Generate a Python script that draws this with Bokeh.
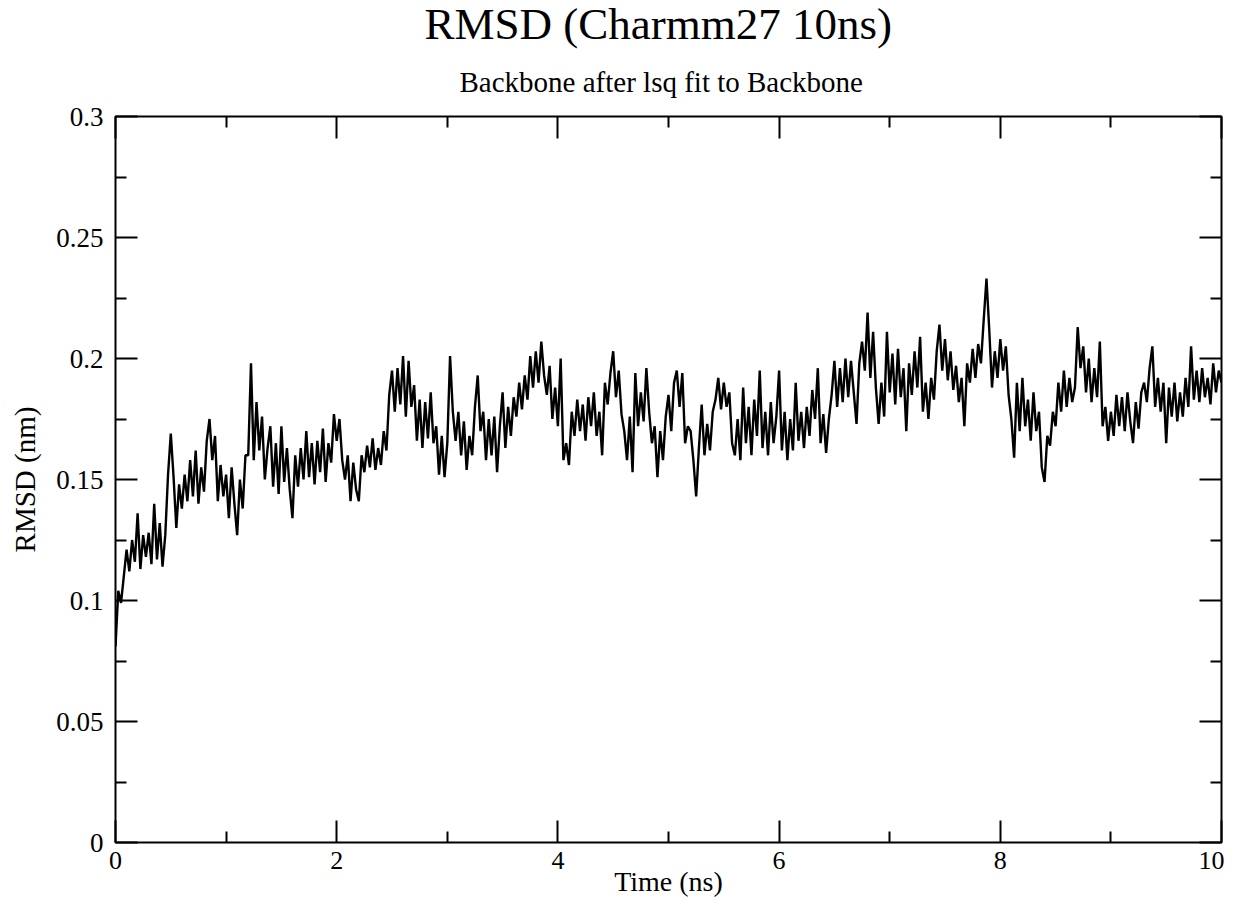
import numpy as np
from bokeh.plotting import figure
from bokeh.models import FixedTicker, LinearAxis, CustomJSTickFormatter, Range1d, Title
from bokeh.embed import file_html
from bokeh.resources import INLINE

FONT = "Liberation Serif"

title_text = "RMSD (Charmm27 10ns)"
subtitle_text = "Backbone after lsq fit to Backbone"
x_label = "Time (ns)"
y_label = "RMSD (nm)"

x_ticks = [0, 2, 4, 6, 8, 10]
x_minor_ticks = [1, 3, 5, 7, 9]
y_ticks = [0.0, 0.05, 0.1, 0.15, 0.2, 0.25, 0.3]
y_tick_labels = ["0", "0.05", "0.1", "0.15", "0.2", "0.25", "0.3"]
y_minor_ticks = [0.025, 0.075, 0.125, 0.175, 0.225, 0.275]

rmsd = [
    0.081, 0.104, 0.099, 0.110, 0.121, 0.112, 0.125, 0.116, 0.136, 0.113, 0.127, 0.118, 0.128, 0.115, 0.140, 0.117, 0.132, 0.114, 0.127, 0.152,
    0.169, 0.151, 0.130, 0.148, 0.138, 0.152, 0.141, 0.158, 0.143, 0.162, 0.140, 0.155, 0.145, 0.166, 0.175, 0.158, 0.168, 0.141, 0.156, 0.143,
    0.152, 0.134, 0.155, 0.140, 0.127, 0.150, 0.138, 0.160, 0.160, 0.198, 0.158, 0.182, 0.162, 0.176, 0.150, 0.163, 0.172, 0.147, 0.165, 0.144,
    0.172, 0.149, 0.163, 0.146, 0.134, 0.160, 0.147, 0.163, 0.150, 0.170, 0.151, 0.165, 0.148, 0.166, 0.153, 0.171, 0.149, 0.165, 0.157, 0.177,
    0.166, 0.175, 0.158, 0.150, 0.160, 0.141, 0.157, 0.146, 0.141, 0.160, 0.153, 0.164, 0.155, 0.167, 0.154, 0.163, 0.156, 0.170, 0.162, 0.185,
    0.195, 0.178, 0.196, 0.181, 0.201, 0.176, 0.199, 0.180, 0.189, 0.166, 0.183, 0.163, 0.182, 0.167, 0.186, 0.165, 0.172, 0.152, 0.168, 0.151,
    0.165, 0.201, 0.178, 0.166, 0.178, 0.160, 0.174, 0.154, 0.168, 0.160, 0.180, 0.193, 0.170, 0.178, 0.158, 0.175, 0.160, 0.176, 0.153, 0.172,
    0.186, 0.163, 0.180, 0.168, 0.184, 0.176, 0.190, 0.179, 0.193, 0.183, 0.201, 0.188, 0.203, 0.190, 0.207, 0.193, 0.185, 0.197, 0.175, 0.188,
    0.172, 0.200, 0.158, 0.165, 0.156, 0.178, 0.168, 0.183, 0.170, 0.181, 0.166, 0.184, 0.172, 0.186, 0.168, 0.178, 0.160, 0.190, 0.181, 0.194,
    0.203, 0.184, 0.195, 0.177, 0.170, 0.158, 0.176, 0.153, 0.194, 0.172, 0.186, 0.174, 0.196, 0.178, 0.165, 0.172, 0.151, 0.170, 0.158, 0.176,
    0.185, 0.170, 0.190, 0.195, 0.180, 0.194, 0.165, 0.172, 0.170, 0.158, 0.143, 0.163, 0.181, 0.160, 0.173, 0.162, 0.178, 0.183, 0.192, 0.179,
    0.190, 0.180, 0.186, 0.165, 0.160, 0.175, 0.158, 0.188, 0.165, 0.180, 0.160, 0.183, 0.168, 0.195, 0.163, 0.178, 0.160, 0.182, 0.165, 0.176,
    0.195, 0.162, 0.178, 0.158, 0.175, 0.162, 0.190, 0.166, 0.178, 0.163, 0.180, 0.168, 0.187, 0.175, 0.196, 0.165, 0.177, 0.161, 0.175, 0.185,
    0.199, 0.180, 0.196, 0.182, 0.200, 0.184, 0.199, 0.186, 0.173, 0.198, 0.207, 0.195, 0.219, 0.192, 0.211, 0.188, 0.173, 0.190, 0.176, 0.211,
    0.186, 0.202, 0.181, 0.204, 0.184, 0.196, 0.170, 0.198, 0.185, 0.203, 0.188, 0.209, 0.178, 0.190, 0.175, 0.192, 0.183, 0.203, 0.214, 0.195,
    0.208, 0.191, 0.203, 0.187, 0.197, 0.182, 0.192, 0.172, 0.198, 0.190, 0.204, 0.192, 0.206, 0.198, 0.216, 0.233, 0.212, 0.188, 0.203, 0.192,
    0.208, 0.195, 0.205, 0.185, 0.175, 0.159, 0.190, 0.170, 0.192, 0.172, 0.183, 0.166, 0.186, 0.170, 0.178, 0.155, 0.149, 0.168, 0.164, 0.178,
    0.172, 0.190, 0.178, 0.195, 0.180, 0.192, 0.182, 0.188, 0.213, 0.196, 0.205, 0.186, 0.200, 0.182, 0.196, 0.184, 0.207, 0.172, 0.180, 0.166,
    0.178, 0.168, 0.185, 0.172, 0.184, 0.170, 0.186, 0.174, 0.165, 0.182, 0.171, 0.186, 0.190, 0.182, 0.196, 0.205, 0.180, 0.192, 0.178, 0.190,
    0.165, 0.188, 0.176, 0.190, 0.174, 0.186, 0.176, 0.192, 0.180, 0.205, 0.183, 0.195, 0.182, 0.196, 0.184, 0.192, 0.181, 0.198, 0.186, 0.195,
    0.190,
]
time_ns = np.linspace(0, 10, len(rmsd))

p = figure(
    width=1224, height=899,
    x_range=Range1d(0, 10), y_range=Range1d(0, 0.3),
    output_backend="svg", toolbar_location=None,
    min_border_left=115, min_border_right=3,
    min_border_top=116, min_border_bottom=20,
)
p.title = None
p.grid.visible = False
p.outline_line_color = "black"
p.outline_line_width = 2
p.background_fill_color = "white"
p.border_fill_color = "white"


def style_axis(ax, show_labels):
    ax.major_tick_in = 22
    ax.major_tick_out = 0
    ax.minor_tick_in = 11
    ax.minor_tick_out = 0
    ax.major_tick_line_color = "black"
    ax.minor_tick_line_color = "black"
    ax.major_tick_line_width = 2
    ax.minor_tick_line_width = 2
    ax.axis_line_color = None
    ax.major_label_text_font = FONT
    ax.major_label_text_color = "black"
    ax.axis_label_text_font = FONT
    ax.axis_label_text_font_style = "normal"
    ax.axis_label_text_color = "black"
    if show_labels:
        ax.major_label_text_font_size = "27px"
    else:
        ax.formatter = CustomJSTickFormatter(code="return ''")
        ax.major_label_text_font_size = "0px"
        ax.major_label_standoff = 0


xb = p.xaxis[0]
xb.ticker = FixedTicker(ticks=x_ticks, minor_ticks=x_minor_ticks)
style_axis(xb, True)
xb.major_label_text_font_size = "26px"
xb.major_label_standoff = 9
xb.axis_label = x_label
xb.axis_label_text_font_size = "28px"
xb.axis_label_standoff = -6

yl = p.yaxis[0]
yl.ticker = FixedTicker(ticks=y_ticks, minor_ticks=y_minor_ticks)
style_axis(yl, True)
yl.major_label_standoff = 12
yl.major_label_overrides = dict(zip(y_ticks, y_tick_labels))
yl.axis_label = y_label
yl.axis_label_text_font_size = "29px"
yl.axis_label_standoff = 12

xa = LinearAxis(ticker=FixedTicker(ticks=x_ticks, minor_ticks=x_minor_ticks))
style_axis(xa, False)
p.add_layout(xa, "above")

yr = LinearAxis(ticker=FixedTicker(ticks=y_ticks, minor_ticks=y_minor_ticks))
style_axis(yr, False)
p.add_layout(yr, "right")

p.add_layout(Title(text=subtitle_text, align="left", text_font=FONT, text_font_size="29px",
                   text_font_style="normal", text_color="black", standoff=38, offset=344), "above")
p.add_layout(Title(text=title_text, align="left", text_font=FONT, text_font_size="45px",
                   text_font_style="normal", text_color="black", standoff=-8, offset=309), "above")

p.line(time_ns, rmsd, line_color="black", line_width=2.4)

open("out.html", "w").write(file_html(p, INLINE))
